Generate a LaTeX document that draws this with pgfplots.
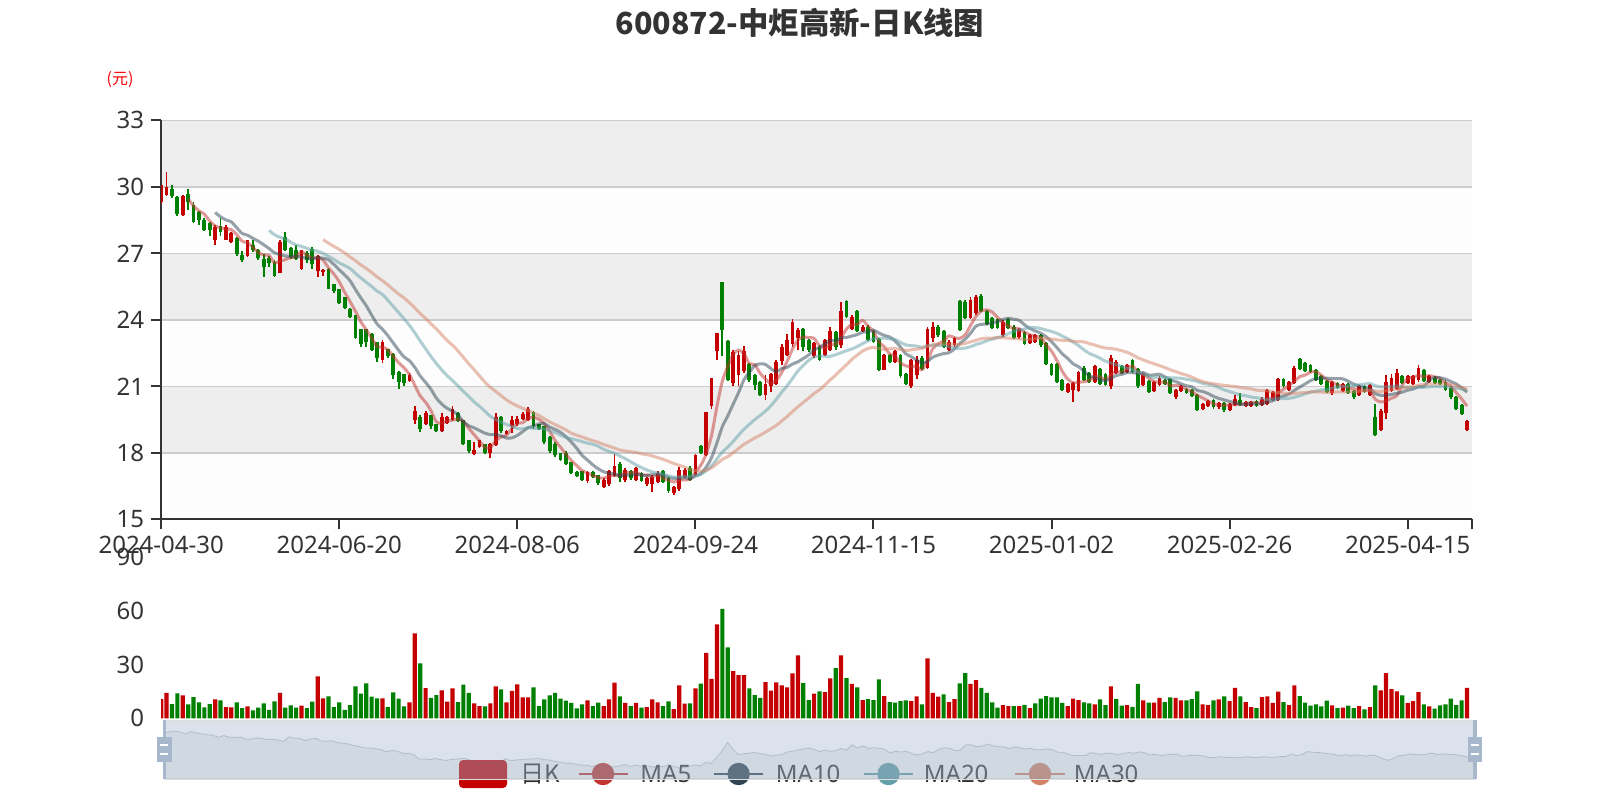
\documentclass[border=0pt]{standalone}
\usepackage{fontspec}
\setmainfont{Noto Sans}
\newfontfamily\cjk{Noto Sans CJK SC}
\usepackage{pgfplots}
\usepackage{pgfplotstable}
\pgfplotsset{compat=1.18}

\definecolor{kup}{RGB}{196,0,0}
\definecolor{kdn}{RGB}{0,128,0}
\definecolor{txt}{HTML}{333333}
\definecolor{gridc}{HTML}{CCCCCC}
\definecolor{banda}{HTML}{EEEEEE}
\definecolor{bandb}{HTML}{FDFDFD}
\definecolor{c5}{HTML}{C23531}
\definecolor{c10}{HTML}{2F4554}
\definecolor{c20}{HTML}{61A0A8}
\definecolor{c30}{HTML}{D48265}
\definecolor{hdl}{HTML}{A7B7CC}
\definecolor{bord}{HTML}{DDDDDD}

\pgfplotstableread{
x o h l c v u m5 m10 m20 m30
0 29.30 30.10 29.25 30.10 10.8 1 nan nan nan nan
1 29.65 30.65 29.60 30.00 14.3 1 nan nan nan nan
2 29.90 30.10 29.50 29.60 8.0 0 nan nan nan nan
3 29.55 29.60 28.70 28.80 14.0 0 nan nan nan nan
4 28.75 29.65 28.70 29.60 12.8 1 nan nan nan nan
5 29.70 29.90 28.95 29.30 7.8 0 29.46 nan nan nan
6 29.20 29.30 28.35 28.40 11.9 0 29.14 nan nan nan
7 28.85 28.90 28.30 28.50 8.9 0 28.92 nan nan nan
8 28.50 28.60 28.00 28.05 6.1 0 28.77 nan nan nan
9 28.35 28.40 27.80 28.05 8.0 0 28.46 nan nan nan
10 27.60 28.30 27.40 28.20 10.6 1 28.24 28.85 nan nan
11 28.25 28.60 27.80 27.98 10.1 0 28.16 28.65 nan nan
12 27.60 28.30 27.60 28.20 6.3 1 28.10 28.51 nan nan
13 27.50 27.95 27.45 27.90 6.1 1 28.07 28.42 nan nan
14 27.70 27.75 26.90 26.98 8.9 0 27.85 28.16 nan nan
15 26.95 27.10 26.60 26.70 5.8 0 27.55 27.90 nan nan
16 26.90 27.60 26.85 27.60 6.7 1 27.48 27.82 nan nan
17 27.37 27.60 27.08 27.15 4.5 0 27.27 27.68 nan nan
18 27.15 27.20 26.70 26.78 6.0 0 27.04 27.55 nan nan
19 26.75 26.97 25.95 26.40 8.4 0 26.93 27.39 nan nan
20 26.80 26.90 26.40 26.55 4.8 0 26.90 27.22 28.04 nan
21 26.60 26.70 25.95 26.00 9.5 0 26.58 27.03 27.84 nan
22 26.10 27.60 26.10 27.50 14.3 1 26.65 26.96 27.73 nan
23 27.75 27.95 27.10 27.15 6.0 0 26.72 26.88 27.65 nan
24 27.25 27.30 26.75 26.85 7.3 0 26.81 26.87 27.51 nan
25 27.15 27.40 26.70 26.75 6.0 0 26.85 26.87 27.38 nan
26 26.30 27.15 26.25 27.15 7.1 1 27.08 26.83 27.32 nan
27 27.00 27.10 26.55 26.70 5.8 0 26.92 26.78 27.23 nan
28 27.20 27.30 26.30 26.50 9.3 0 26.79 26.76 27.15 nan
29 26.20 26.95 25.95 26.90 23.5 1 26.80 26.81 27.10 nan
30 26.15 26.30 26.00 26.25 11.2 1 26.70 26.78 27.00 27.62
31 26.30 26.35 25.40 25.40 12.3 0 26.35 26.72 26.87 27.46
32 25.60 25.60 25.20 25.30 6.3 0 26.07 26.50 26.73 27.32
33 25.40 25.40 24.70 24.75 8.9 0 25.72 26.26 26.57 27.18
34 25.05 25.05 24.50 24.55 4.7 0 25.25 26.03 26.45 27.02
35 24.50 24.55 24.10 24.15 7.4 0 24.83 25.77 26.32 26.84
36 24.20 24.20 23.15 23.20 17.9 0 24.39 25.37 26.10 26.67
37 23.60 23.60 22.80 22.90 13.8 0 23.91 24.99 25.89 26.48
38 23.60 23.60 22.80 23.00 19.6 0 23.56 24.64 25.70 26.32
39 23.35 23.40 22.60 22.65 12.1 0 23.18 24.22 25.51 26.14
40 23.00 23.00 22.10 22.30 11.2 0 22.81 23.82 25.30 25.94
41 22.20 23.10 22.05 23.00 11.2 1 22.77 23.58 25.15 25.77
42 22.70 22.70 22.30 22.35 6.3 0 22.66 23.29 24.89 25.58
43 22.45 22.50 21.35 21.50 14.5 0 22.36 22.96 24.61 25.37
44 21.65 21.70 20.90 21.20 11.0 0 22.07 22.63 24.33 25.17
45 21.55 21.55 21.00 21.15 6.7 0 21.84 22.33 24.05 24.99
46 21.25 21.60 21.20 21.50 8.9 1 21.54 22.16 23.76 24.78
47 19.50 20.10 19.30 19.90 47.5 1 21.05 21.86 23.42 24.54
48 19.60 19.70 18.95 19.10 30.7 0 20.57 21.47 23.05 24.29
49 19.30 19.90 19.25 19.80 16.9 1 20.29 21.18 22.70 24.07
50 19.70 19.70 19.10 19.20 11.4 0 19.90 20.87 22.35 23.82
51 19.30 19.30 18.95 19.00 13.0 0 19.40 20.47 22.03 23.59
52 19.00 19.80 18.95 19.60 15.6 1 19.34 20.20 21.74 23.33
53 19.35 19.65 19.30 19.60 9.3 1 19.44 20.01 21.48 23.07
54 19.50 20.10 19.45 20.00 16.8 1 19.48 19.89 21.26 22.85
55 19.80 19.85 19.40 19.45 9.1 0 19.53 19.72 21.02 22.60
56 19.50 19.50 18.35 18.40 18.8 0 19.41 19.41 20.78 22.31
57 18.60 18.60 18.00 18.10 14.2 0 19.11 19.23 20.54 22.02
58 17.95 18.50 17.90 18.15 8.4 1 18.82 19.13 20.30 21.75
59 18.25 18.60 18.20 18.60 6.9 1 18.54 19.01 20.10 21.47
60 18.40 18.40 17.98 18.00 6.7 0 18.25 18.89 19.88 21.19
61 18.00 18.45 17.75 18.40 8.4 1 18.25 18.83 19.65 20.96
62 18.35 19.80 18.30 19.60 17.9 1 18.55 18.83 19.51 20.77
63 19.60 19.65 18.90 19.00 16.2 0 18.72 18.77 19.39 20.58
64 18.85 19.05 18.80 19.00 8.9 1 18.80 18.67 19.28 20.39
65 19.20 19.65 18.90 19.50 15.3 1 19.10 18.68 19.20 20.24
66 19.30 19.65 19.20 19.55 19.0 1 19.33 18.79 19.10 20.12
67 19.55 19.85 19.50 19.75 11.7 1 19.36 18.96 19.09 20.01
68 19.50 20.05 19.45 20.00 11.7 1 19.56 19.14 19.14 19.91
69 19.85 19.90 19.10 19.20 17.3 0 19.60 19.20 19.11 19.80
70 19.30 19.30 19.05 19.10 6.9 0 19.52 19.31 19.10 19.69
71 19.20 19.20 18.40 18.50 10.6 0 19.31 19.32 19.08 19.54
72 18.70 18.75 18.00 18.10 12.8 0 18.98 19.17 19.00 19.40
73 18.40 18.50 17.80 17.90 14.2 0 18.56 19.06 18.92 19.28
74 18.00 18.00 17.65 17.70 11.0 0 18.26 18.93 18.80 19.16
75 18.00 18.10 17.45 17.50 9.9 0 17.94 18.73 18.70 19.04
76 17.60 17.60 17.05 17.10 8.6 0 17.66 18.49 18.64 18.89
77 17.15 17.20 16.90 16.95 5.6 0 17.43 18.21 18.58 18.80
78 17.20 17.20 16.75 16.80 7.8 0 17.21 17.89 18.51 18.72
79 16.75 17.20 16.65 17.15 10.1 1 17.10 17.68 18.44 18.63
80 17.15 17.20 16.85 16.90 6.9 0 16.98 17.46 18.39 18.55
81 17.00 17.00 16.55 16.65 8.8 0 16.89 17.28 18.30 18.48
82 16.45 16.85 16.40 16.80 6.9 1 16.86 17.15 18.16 18.38
83 16.60 17.25 16.50 17.20 10.6 1 16.94 17.08 18.07 18.30
84 16.95 17.95 16.90 17.40 19.9 1 16.99 17.05 17.99 18.22
85 17.50 17.60 16.70 16.85 12.3 0 16.98 16.98 17.86 18.13
86 16.80 17.30 16.70 17.25 8.6 1 17.10 17.00 17.74 18.09
87 17.20 17.25 16.80 16.85 6.9 0 17.11 16.99 17.60 18.05
88 16.80 17.35 16.75 17.30 8.6 1 17.13 17.04 17.46 18.02
89 17.10 17.15 16.70 16.75 6.0 0 17.00 17.00 17.34 17.96
90 16.60 16.90 16.50 16.85 6.3 1 17.00 16.99 17.23 17.92
91 16.60 17.00 16.25 16.90 10.6 1 16.93 17.02 17.15 17.87
92 16.70 17.20 16.65 17.10 8.9 1 16.98 17.05 17.10 17.79
93 17.20 17.22 16.65 16.70 6.9 0 16.86 17.00 17.04 17.71
94 16.85 16.90 16.20 16.30 9.5 0 16.77 16.89 16.97 17.62
95 16.20 16.50 16.10 16.45 5.2 1 16.69 16.85 16.91 17.52
96 16.35 17.35 16.30 17.25 18.4 1 16.76 16.85 16.92 17.44
97 16.90 17.30 16.85 17.25 8.2 1 16.79 16.89 16.94 17.36
98 17.30 17.40 16.75 16.80 8.4 0 16.81 16.84 16.94 17.25
99 17.00 17.95 16.95 17.90 16.8 1 17.13 16.95 16.97 17.21
100 18.30 18.35 17.95 18.00 19.4 0 17.44 17.07 17.03 17.17
101 17.90 19.85 17.85 19.85 36.5 1 17.96 17.36 17.19 17.22
102 20.10 21.40 20.00 21.40 22.0 1 18.79 17.79 17.42 17.33
103 22.60 23.40 22.20 23.40 52.5 1 20.11 18.46 17.73 17.51
104 25.70 25.70 22.35 23.55 61.1 0 21.24 19.19 18.04 17.71
105 23.05 23.10 21.25 21.30 39.7 0 21.90 19.67 18.26 17.83
106 21.15 22.65 21.00 22.55 26.4 1 22.44 20.20 18.52 18.01
107 21.50 22.60 21.00 22.40 24.2 1 22.64 20.72 18.80 18.20
108 21.70 22.82 21.60 22.60 24.2 1 22.48 21.30 19.07 18.39
109 22.00 22.05 21.20 21.30 16.8 0 22.03 21.64 19.29 18.53
110 21.50 21.55 20.85 21.05 13.0 0 21.98 21.94 19.50 18.67
111 21.20 21.25 20.55 20.60 11.5 0 21.59 22.02 19.69 18.80
112 20.60 21.50 20.40 21.10 20.3 1 21.33 21.99 19.89 18.94
113 21.00 21.60 20.75 21.55 15.5 1 21.12 21.80 20.13 19.09
114 21.10 22.20 21.05 22.10 20.1 1 21.28 21.66 20.42 19.24
115 22.15 22.90 21.95 22.80 18.4 1 21.63 21.81 20.74 19.44
116 22.40 23.35 22.35 23.10 17.3 1 22.13 21.86 21.03 19.64
117 22.90 24.05 22.80 23.90 25.1 1 22.69 22.01 21.36 19.87
118 23.20 23.65 22.65 23.55 35.2 1 23.09 22.11 21.70 20.08
119 23.60 23.65 22.60 22.80 19.7 0 23.23 22.26 21.95 20.28
120 23.10 23.15 22.55 22.65 10.2 0 23.20 22.42 22.18 20.47
121 22.35 23.00 22.30 22.95 13.8 1 23.17 22.65 22.33 20.68
122 22.80 22.85 22.15 22.20 15.1 0 22.83 22.76 22.37 20.85
123 22.40 23.15 22.35 23.10 14.7 1 22.74 22.92 22.36 21.06
124 22.65 23.70 22.60 23.50 22.3 1 22.88 23.06 22.36 21.30
125 23.45 23.50 22.65 22.80 28.1 0 22.91 23.06 22.43 21.51
126 22.85 24.80 22.75 24.40 35.2 1 23.20 23.19 22.52 21.75
127 24.85 24.90 24.10 24.15 22.5 0 23.59 23.21 22.61 21.98
128 23.60 24.20 23.55 24.15 19.2 1 23.80 23.27 22.69 22.22
129 24.40 24.45 23.45 23.50 17.3 0 23.80 23.34 22.80 22.41
130 23.50 23.75 23.45 23.70 10.2 1 23.98 23.45 22.93 22.60
131 23.70 23.75 23.05 23.10 10.8 0 23.72 23.46 23.06 22.71
132 23.50 23.55 22.95 23.00 10.2 0 23.49 23.54 23.15 22.76
133 23.15 23.20 21.70 21.75 21.8 0 23.01 23.41 23.16 22.71
134 21.75 22.45 21.72 22.40 12.5 1 22.79 23.30 23.18 22.67
135 22.40 22.45 22.05 22.10 9.1 0 22.47 23.23 23.14 22.70
136 22.10 22.65 22.05 22.60 8.8 0 22.37 23.05 23.12 22.70
137 22.40 22.45 21.40 21.45 9.7 0 22.06 22.78 22.99 22.67
138 21.55 21.60 21.05 21.10 10.1 0 21.93 22.47 22.87 22.62
139 21.00 22.25 20.95 22.20 9.7 1 21.89 22.34 22.84 22.65
140 21.50 22.35 21.35 22.20 12.3 1 21.91 22.19 22.82 22.68
141 22.30 22.35 21.75 21.80 7.8 0 21.75 22.06 22.76 22.72
142 21.85 23.70 21.80 23.60 33.5 1 22.18 22.12 22.83 22.81
143 23.20 23.92 23.00 23.70 14.2 1 22.70 22.32 22.86 22.88
144 23.70 23.75 23.25 23.30 12.1 1 22.92 22.41 22.85 22.92
145 23.50 23.55 22.75 22.80 13.4 0 23.04 22.48 22.85 22.92
146 22.65 23.10 22.60 23.00 9.1 1 23.28 22.52 22.78 22.92
147 22.85 23.25 22.80 23.20 10.8 1 23.20 22.69 22.73 22.89
148 24.85 24.90 23.50 23.55 19.6 0 23.17 22.94 22.70 22.89
149 24.80 24.90 24.05 24.10 25.3 0 23.33 23.13 22.73 22.94
150 24.10 25.05 24.05 24.90 19.2 1 23.75 23.40 22.79 23.01
151 24.30 25.12 24.20 25.05 21.4 1 24.16 23.72 22.89 23.08
152 25.10 25.15 24.35 24.40 17.1 0 24.40 23.80 22.96 23.15
153 24.40 24.45 23.75 23.80 14.2 0 24.45 23.81 23.06 23.18
154 24.10 24.15 23.60 23.65 8.9 0 24.36 23.85 23.13 23.18
155 24.05 24.10 23.60 23.65 6.0 0 24.11 23.93 23.20 23.21
156 23.30 24.00 23.25 23.90 7.4 1 23.88 24.02 23.27 23.19
157 24.05 24.10 23.60 23.65 6.9 1 23.73 24.07 23.38 23.18
158 23.70 23.75 23.15 23.20 6.9 0 23.61 24.03 23.48 23.15
159 23.25 23.65 23.15 23.60 6.9 1 23.60 23.98 23.55 23.15
160 23.45 23.50 22.85 22.90 7.6 0 23.45 23.78 23.59 23.12
161 22.95 23.35 22.90 23.30 5.8 1 23.33 23.61 23.66 23.13
162 23.00 23.35 22.95 23.30 8.4 0 23.26 23.50 23.65 23.14
163 23.30 23.35 22.80 22.85 11.0 0 23.19 23.40 23.61 23.18
164 22.95 23.00 21.95 22.00 12.5 0 22.87 23.24 23.54 23.16
165 22.00 22.05 21.45 21.50 11.7 0 22.59 23.02 23.48 23.14
166 22.00 22.05 21.15 21.20 11.7 0 22.17 22.75 23.39 23.10
167 21.30 21.35 20.80 20.85 8.6 0 21.68 22.47 23.27 23.08
168 20.75 21.15 20.72 21.10 6.9 1 21.33 22.26 23.15 23.08
169 20.85 21.20 20.30 21.15 11.0 1 21.16 22.02 23.00 23.04
170 20.80 21.70 20.75 21.65 10.2 1 21.19 21.89 22.84 23.02
171 21.85 21.90 21.25 21.30 8.9 0 21.21 21.69 22.65 23.01
172 21.60 21.65 21.15 21.20 8.4 0 21.28 21.48 22.49 22.93
173 21.20 21.95 21.15 21.90 7.8 1 21.44 21.39 22.39 22.87
174 21.80 21.85 21.05 21.10 10.6 0 21.43 21.30 22.27 22.79
175 21.55 21.60 21.00 21.05 7.4 0 21.31 21.25 22.14 22.73
176 21.00 22.40 20.90 22.30 17.9 1 21.51 21.36 22.06 22.71
177 21.60 22.20 21.55 22.10 10.8 0 21.69 21.49 21.98 22.67
178 21.90 21.95 21.55 21.60 7.1 0 21.63 21.54 21.90 22.61
179 21.65 22.00 21.60 21.95 7.4 1 21.80 21.62 21.82 22.54
180 22.20 22.25 21.60 21.65 6.5 0 21.92 21.62 21.75 22.43
181 21.80 21.85 20.95 21.00 19.2 0 21.66 21.59 21.64 22.29
182 21.05 21.60 21.00 21.55 10.1 1 21.55 21.62 21.55 22.20
183 21.25 21.30 20.70 20.75 8.8 0 21.38 21.51 21.45 22.10
184 20.80 21.25 20.75 21.20 8.8 1 21.23 21.52 21.41 22.02
185 21.05 21.45 21.00 21.40 11.5 1 21.18 21.55 21.40 21.94
186 21.30 21.35 21.05 21.10 9.1 0 21.20 21.43 21.40 21.85
187 21.35 21.40 20.65 20.70 11.7 0 21.03 21.29 21.39 21.75
188 20.50 20.90 20.45 20.85 11.4 1 21.05 21.22 21.38 21.67
189 20.78 21.05 20.75 21.00 10.1 1 21.01 21.12 21.37 21.58
190 20.90 20.95 20.65 20.70 10.1 0 20.87 21.03 21.32 21.51
191 20.85 20.90 20.50 20.55 10.8 0 20.76 20.98 21.28 21.42
192 20.60 20.65 19.90 19.95 15.1 0 20.61 20.82 21.22 21.31
193 20.00 20.25 19.95 20.22 7.8 1 20.48 20.77 21.14 21.22
194 20.10 20.40 20.05 20.35 7.4 1 20.35 20.68 21.10 21.16
195 20.40 20.45 20.00 20.05 10.1 0 20.22 20.55 21.05 21.12
196 20.05 20.30 20.00 20.25 10.6 1 20.16 20.46 20.95 21.08
197 20.25 20.30 19.85 19.95 12.3 0 20.16 20.39 20.84 21.05
198 19.95 20.25 19.90 20.20 9.7 1 20.16 20.32 20.77 21.02
199 20.15 20.60 20.10 20.45 17.1 1 20.18 20.27 20.69 21.00
200 20.40 20.70 20.10 20.15 12.3 0 20.20 20.21 20.62 20.95
201 20.10 20.35 20.05 20.30 9.1 1 20.21 20.19 20.58 20.92
202 20.12 20.35 20.08 20.30 6.3 1 20.28 20.22 20.52 20.89
203 20.35 20.40 20.05 20.10 5.8 0 20.26 20.21 20.49 20.83
204 20.15 20.50 20.10 20.45 11.9 1 20.26 20.22 20.45 20.81
205 20.20 20.90 20.15 20.85 12.3 1 20.40 20.30 20.42 20.80
206 20.40 20.80 20.35 20.75 8.6 1 20.49 20.35 20.41 20.75
207 20.40 21.40 20.35 21.35 14.9 1 20.70 20.49 20.44 20.72
208 21.35 21.40 20.95 21.00 9.1 0 20.88 20.57 20.45 20.70
209 20.85 21.25 20.80 21.20 7.4 1 21.03 20.65 20.46 20.68
210 21.15 21.90 21.10 21.85 18.4 1 21.23 20.82 20.51 20.68
211 22.25 22.30 21.75 21.80 12.5 0 21.44 20.97 20.58 20.71
212 22.05 22.10 21.65 21.70 8.8 0 21.51 21.11 20.66 20.72
213 21.95 22.00 21.60 21.65 7.1 0 21.64 21.26 20.74 20.75
214 21.75 21.80 21.25 21.30 7.8 0 21.66 21.35 20.78 20.75
215 21.45 21.50 21.05 21.10 6.7 0 21.51 21.37 20.84 20.74
216 21.25 21.30 20.70 20.75 9.9 0 21.30 21.37 20.86 20.73
217 20.70 21.25 20.60 21.20 7.3 1 21.20 21.36 20.92 20.74
218 21.15 21.20 20.90 20.95 5.8 0 21.06 21.35 20.96 20.75
219 20.80 21.15 20.75 21.10 6.0 1 21.02 21.34 20.99 20.75
220 21.10 21.15 20.65 20.70 7.1 0 20.94 21.23 21.02 20.75
221 20.80 20.85 20.45 20.50 5.8 0 20.89 21.10 21.03 20.75
222 20.60 21.05 20.55 21.00 6.9 1 20.85 21.03 21.07 20.78
223 21.00 21.05 20.70 20.75 5.0 0 20.81 20.94 21.10 20.80
224 20.60 21.10 20.55 21.05 6.3 1 20.80 20.91 21.13 20.83
225 19.60 20.20 18.75 18.80 18.4 0 20.42 20.68 21.03 20.78
226 19.05 20.00 19.00 19.90 15.6 1 20.30 20.60 20.98 20.77
227 19.80 21.50 19.55 21.20 25.3 1 20.34 20.60 20.98 20.81
228 20.80 21.55 20.75 21.40 16.4 1 20.47 20.64 21.00 20.85
229 20.90 21.80 20.85 21.60 15.1 1 20.58 20.69 21.02 20.89
230 21.45 21.50 21.10 21.15 12.8 0 21.05 20.74 20.98 20.93
231 21.15 21.50 21.10 21.45 8.6 1 21.36 20.83 20.96 20.96
232 21.10 21.50 21.05 21.45 9.7 1 21.41 20.88 20.95 21.00
233 21.30 21.95 21.20 21.85 14.7 1 21.50 20.99 20.96 21.06
234 21.75 21.80 21.20 21.25 7.8 0 21.43 21.01 20.96 21.09
235 21.20 21.50 21.15 21.45 6.7 1 21.49 21.27 20.98 21.11
236 21.40 21.45 21.10 21.15 5.4 0 21.43 21.40 21.00 21.12
237 21.30 21.35 21.05 21.10 7.3 0 21.36 21.39 20.99 21.11
238 21.20 21.30 20.80 20.85 7.8 0 21.16 21.33 20.99 21.11
239 20.95 21.00 20.45 20.50 11.0 0 21.01 21.22 20.96 21.08
240 20.50 20.55 19.95 20.00 7.4 0 20.72 21.11 20.92 21.02
241 20.15 20.20 19.70 19.75 10.1 0 20.44 20.94 20.88 20.95
242 19.05 19.50 19.00 19.45 17.1 1 20.11 20.74 20.81 20.88
}\kdata

\newcommand\lf{\fontsize{12}{14.4}\selectfont}

\begin{document}
\begin{tikzpicture}
\path[use as bounding box] (0pt,0pt) rectangle (800pt,400pt);

% title and unit
\node[font=\cjk\bfseries\fontsize{15.2}{18}\selectfont, text=txt] at (400pt,388.75pt) {600872-中炬高新-日K线图};
\node[font=\cjk\fontsize{8}{10}\selectfont, text=red] at (60pt,360.25pt) {(元)};

% alternating background bands of the price panel (15..33 -> 140.3pt..339.8pt)
\fill[bandb] (80.6pt,140.3pt)  rectangle (736.2pt,173.55pt);
\fill[banda] (80.6pt,173.55pt) rectangle (736.2pt,206.8pt);
\fill[bandb] (80.6pt,206.8pt)  rectangle (736.2pt,240.05pt);
\fill[banda] (80.6pt,240.05pt) rectangle (736.2pt,273.3pt);
\fill[bandb] (80.6pt,273.3pt)  rectangle (736.2pt,306.55pt);
\fill[banda] (80.6pt,306.55pt) rectangle (736.2pt,339.8pt);

% ---------- price panel ----------
\begin{axis}[
  at={(80.6pt,140.3pt)}, anchor=south west,
  scale only axis, width=655.6pt, height=199.5pt,
  xmin=0, xmax=243, ymin=15, ymax=33,
  xtick={0,33,66,99,132,165,198,231},
  xticklabels={2024-04-30,2024-06-20,2024-08-06,2024-09-24,2024-11-15,2025-01-02,2025-02-26,2025-04-15},
  extra x ticks={243}, extra x tick labels={},
  ytick={15,18,21,24,27,30,33},
  axis x line*=bottom, axis y line*=left,
  axis line style={draw=txt, line width=1pt},
  tick align=outside, major tick length=5pt,
  tick style={draw=txt, line width=1pt},
  ymajorgrids, major grid style={draw=gridc, line width=0.8pt},
  tick label style={font=\lf, text=txt},
  /pgf/number format/assume math mode=true,
]
% rising candles: wick and body
\addplot[draw=none, mark=none, restrict expr to domain={\thisrow{c}-\thisrow{o}}{0:100},
  error bars/.cd, y dir=both, y explicit, error mark=none,
  error bar style={line width=0.9pt, draw=kup, solid}]
  table[x=x, y=c, y error plus expr=\thisrow{h}-\thisrow{c}, y error minus expr=\thisrow{c}-\thisrow{l}]{\kdata};
\addplot[draw=none, mark=none, restrict expr to domain={\thisrow{c}-\thisrow{o}}{0:100},
  error bars/.cd, y dir=plus, y explicit, error mark=none,
  error bar style={line width=1.9pt, draw=kup, solid}]
  table[x=x, y=o, y error plus expr=\thisrow{c}-\thisrow{o}]{\kdata};
% falling candles: wick and body
\addplot[draw=none, mark=none, restrict expr to domain={\thisrow{c}-\thisrow{o}}{-100:-0.001},
  error bars/.cd, y dir=both, y explicit, error mark=none,
  error bar style={line width=0.9pt, draw=kdn, solid}]
  table[x=x, y=c, y error plus expr=\thisrow{h}-\thisrow{c}, y error minus expr=\thisrow{c}-\thisrow{l}]{\kdata};
\addplot[draw=none, mark=none, restrict expr to domain={\thisrow{c}-\thisrow{o}}{-100:-0.001},
  error bars/.cd, y dir=plus, y explicit, error mark=none,
  error bar style={line width=1.9pt, draw=kdn, solid}]
  table[x=x, y=c, y error plus expr=\thisrow{o}-\thisrow{c}]{\kdata};
\addplot[no markers, smooth, line width=1.5pt, draw=c5, draw opacity=0.5] table[x=x,y=m5]{\kdata};
\addplot[no markers, smooth, line width=1.5pt, draw=c10, draw opacity=0.5] table[x=x,y=m10]{\kdata};
\addplot[no markers, smooth, line width=1.5pt, draw=c20, draw opacity=0.5] table[x=x,y=m20]{\kdata};
\addplot[no markers, smooth, line width=1.5pt, draw=c30, draw opacity=0.5] table[x=x,y=m30]{\kdata};
\end{axis}

% ---------- volume panel ----------
\begin{axis}[
  at={(80.6pt,40.8pt)}, anchor=south west,
  scale only axis, width=655.6pt, height=80.65pt,
  xmin=0, xmax=243, ymin=0, ymax=90,
  xtick=\empty, ytick={0,30,60,90},
  axis x line=none, axis y line*=left,
  y axis line style={draw=none},
  tick align=outside, major tick length=5pt,
  ytick style={draw=none},
  tick label style={font=\lf, text=txt},
  /pgf/number format/assume math mode=true,
]
\addplot[ybar, bar width=2.1pt, bar shift=0pt, fill=kup, draw=none,
  restrict expr to domain={\thisrow{u}}{0.5:1.5}] table[x=x,y=v]{\kdata};
\addplot[ybar, bar width=2.1pt, bar shift=0pt, fill=kdn, draw=none,
  restrict expr to domain={\thisrow{u}}{-0.5:0.5}] table[x=x,y=v]{\kdata};
\end{axis}

% ---------- legend (under the slider) ----------
\fill[kup, rounded corners=2pt] (229.5pt,6pt) rectangle (253.5pt,20pt);
\node[anchor=west, inner sep=0pt, font=\cjk\lf, text=txt] at (260pt,13pt) {日K};
\draw[c5, line width=1pt] (289.3pt,13pt) -- (313.8pt,13pt);
\fill[c5] (301.5pt,13pt) circle (5.6pt);
\node[anchor=west, inner sep=0pt, font=\lf, text=txt] at (320pt,13pt) {MA5};
\draw[c10, line width=1pt] (357pt,13pt) -- (381.5pt,13pt);
\fill[c10] (369.3pt,13pt) circle (5.6pt);
\node[anchor=west, inner sep=0pt, font=\lf, text=txt] at (387.75pt,13pt) {MA10};
\draw[c20, line width=1pt] (432pt,13pt) -- (456.5pt,13pt);
\fill[c20] (444.25pt,13pt) circle (5.6pt);
\node[anchor=west, inner sep=0pt, font=\lf, text=txt] at (461.75pt,13pt) {MA20};
\draw[c30, line width=1pt] (507.5pt,13pt) -- (532.5pt,13pt);
\fill[c30] (520pt,13pt) circle (5.6pt);
\node[anchor=west, inner sep=0pt, font=\lf, text=txt] at (536.75pt,13pt) {MA30};

% ---------- data zoom slider ----------
\begin{axis}[
  at={(82.15pt,10.5pt)}, anchor=south west,
  scale only axis, width=655.35pt, height=29.5pt,
  xmin=0, xmax=242, ymin=12.09, ymax=34.01,
  hide axis,
]
\addplot[draw=c10, draw opacity=0.3, line width=0.4pt, fill=c10, fill opacity=0.09]
  table[x=x,y=o]{\kdata} \closedcycle;
\end{axis}
\fill[hdl, fill opacity=0.4] (82.15pt,10.5pt) rectangle (737.5pt,40pt);
\draw[bord, line width=0.5pt] (82.15pt,10.5pt) rectangle (737.5pt,40pt);
\foreach \hx in {82.15,737.5}{
  \fill[hdl] (\hx pt-0.8pt,10.5pt) rectangle (\hx pt+0.8pt,40pt);
  \fill[hdl] (\hx pt-3.65pt,18.85pt) rectangle (\hx pt+3.65pt,31.65pt);
  \fill[white] (\hx pt-2.1pt,26.95pt) rectangle (\hx pt+2.0pt,28.15pt);
  \fill[white] (\hx pt-2.1pt,22.35pt) rectangle (\hx pt+2.0pt,23.55pt);
}
\end{tikzpicture}
\end{document}
